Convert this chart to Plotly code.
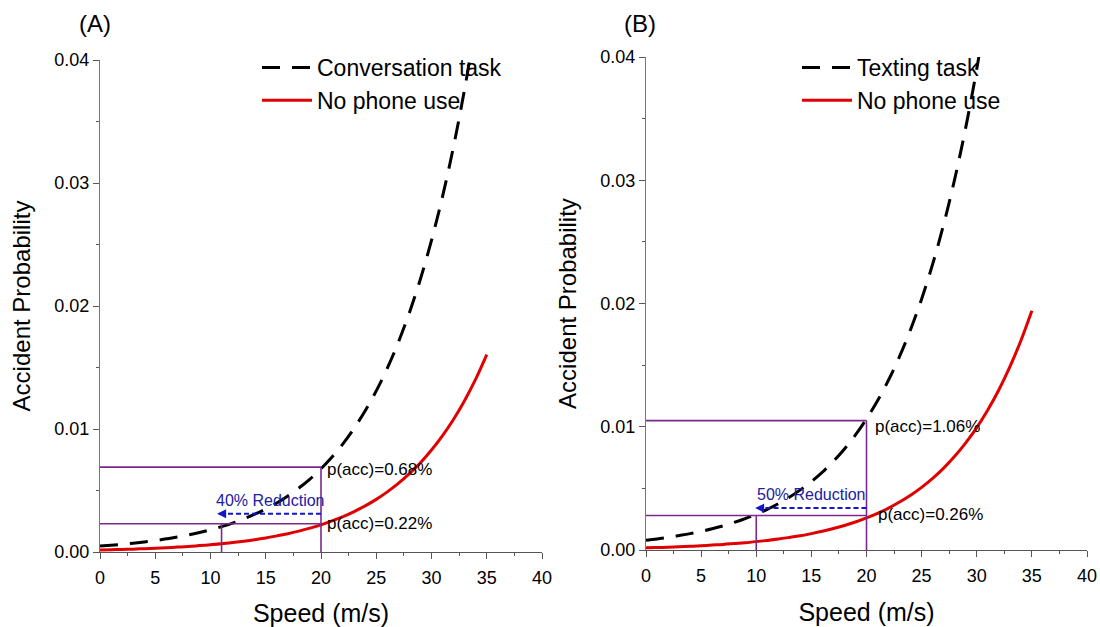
import plotly.graph_objects as go

# ---------------- data ----------------
speed = list(range(0, 36))

conversation_prob = [0.00048, 0.00055, 0.00063, 0.00072, 0.00082, 0.00093, 0.00107, 0.00122,
                     0.00139, 0.00158, 0.00181, 0.00206, 0.00235, 0.00269, 0.00307, 0.00350,
                     0.00399, 0.00456, 0.00520, 0.00593, 0.00677, 0.00772, 0.00881, 0.01006,
                     0.01148, 0.01310, 0.01494, 0.01705, 0.01946, 0.02220, 0.02534, 0.02891,
                     0.03299, 0.03765, 0.04296]

no_phone_a = [0.00016, 0.00018, 0.00021, 0.00023, 0.00027, 0.00031, 0.00035, 0.00040,
              0.00045, 0.00052, 0.00059, 0.00067, 0.00077, 0.00088, 0.00100, 0.00114,
              0.00131, 0.00149, 0.00170, 0.00194, 0.00221, 0.00253, 0.00288, 0.00329,
              0.00375, 0.00428, 0.00489, 0.00558, 0.00637, 0.00726, 0.00829, 0.00946,
              0.01079, 0.01232, 0.01405, 0.01604]

texting_prob = [0.00079, 0.00090, 0.00102, 0.00117, 0.00133, 0.00151, 0.00172, 0.00196,
                0.00224, 0.00255, 0.00290, 0.00330, 0.00376, 0.00428, 0.00488, 0.00555,
                0.00632, 0.00720, 0.00820, 0.00934, 0.01064, 0.01211, 0.01379, 0.01571,
                0.01789, 0.02037, 0.02320, 0.02642, 0.03009, 0.03427, 0.03903, 0.04445]

no_phone_b = [0.00018, 0.00020, 0.00023, 0.00027, 0.00030, 0.00035, 0.00040, 0.00045,
              0.00052, 0.00059, 0.00068, 0.00078, 0.00089, 0.00102, 0.00116, 0.00133,
              0.00152, 0.00174, 0.00199, 0.00227, 0.00260, 0.00297, 0.00340, 0.00389,
              0.00444, 0.00508, 0.00581, 0.00664, 0.00760, 0.00869, 0.00993, 0.01136,
              0.01298, 0.01485, 0.01698, 0.01941]

# guide lines: (speed at phone use, prob at phone use, reduced speed, prob at reduced speed)
guide_a = dict(v_ref=20, p_high=0.0069, v_low=11, p_low=0.0023, arrow_y=0.0031, arrow_end=10.6)
guide_b = dict(v_ref=20, p_high=0.0105, v_low=10, p_low=0.0028, arrow_y=0.0034, arrow_end=9.9)
labels_a = ["p(acc)=0.68%", "p(acc)=0.22%", "40% Reduction"]
labels_b = ["p(acc)=1.06%", "p(acc)=0.26%", "50% Reduction"]

x_ticks = [0, 5, 10, 15, 20, 25, 30, 35, 40]
y_ticks = [0.00, 0.01, 0.02, 0.03, 0.04]

FONT = "Liberation Sans, Arial, sans-serif"
PURPLE = "#7a2a8c"
BLUE = "#1515c8"

W, H = 1100, 627

def px(p):
    return p / W

def py(p):
    return 1 - p / H

fig = go.Figure()

def add_panel(xa, ya, task_name, task_y, nophone_y, legend):
    fig.add_trace(go.Scatter(x=speed[:len(task_y)], y=task_y, mode="lines", name=task_name,
                             line=dict(color="black", width=3, dash="18px,12px", shape="spline"),
                             xaxis=xa, yaxis=ya, legend=legend))
    fig.add_trace(go.Scatter(x=speed[:len(nophone_y)], y=nophone_y, mode="lines", name="No phone use",
                             line=dict(color="#e00000", width=3, shape="spline"),
                             xaxis=xa, yaxis=ya, legend=legend))

add_panel("x", "y", "Conversation task", conversation_prob, no_phone_a, "legend")
add_panel("x2", "y2", "Texting task", texting_prob, no_phone_b, "legend2")

shapes = []
annotations = []

def add_guides(xr, yr, g, labels, lab_off):
    pl = dict(color=PURPLE, width=1.6)
    shapes.append(dict(type="line", xref=xr, yref=yr, x0=0, x1=g["v_ref"], y0=g["p_high"], y1=g["p_high"], line=pl))
    shapes.append(dict(type="line", xref=xr, yref=yr, x0=g["v_ref"], x1=g["v_ref"], y0=0, y1=g["p_high"], line=pl))
    shapes.append(dict(type="line", xref=xr, yref=yr, x0=0, x1=g["v_ref"], y0=g["p_low"], y1=g["p_low"], line=pl))
    shapes.append(dict(type="line", xref=xr, yref=yr, x0=g["v_low"], x1=g["v_low"], y0=0, y1=g["p_low"], line=pl))
    shapes.append(dict(type="line", xref=xr, yref=yr, x0=g["v_ref"], x1=g["arrow_end"] + 0.5,
                       y0=g["arrow_y"], y1=g["arrow_y"], line=dict(color=BLUE, width=2, dash="5px,3px")))
    annotations.append(dict(xref=xr, yref=yr, axref=xr, ayref=yr, x=g["arrow_end"], y=g["arrow_y"],
                            ax=g["arrow_end"] + 0.8, ay=g["arrow_y"], text="", showarrow=True,
                            arrowhead=2, arrowsize=0.9, arrowwidth=2, arrowcolor=BLUE))
    annotations.append(dict(xref=xr, yref=yr, x=g["v_ref"] + lab_off[0], y=g["p_high"] + lab_off[1], text=labels[0],
                            showarrow=False, xanchor="left", yanchor="middle",
                            font=dict(family=FONT, size=17, color="black")))
    annotations.append(dict(xref=xr, yref=yr, x=g["v_ref"] + lab_off[2], y=g["p_low"] + lab_off[3], text=labels[1],
                            showarrow=False, xanchor="left", yanchor="middle",
                            font=dict(family=FONT, size=17, color="black")))
    annotations.append(dict(xref=xr, yref=yr, x=(g["v_ref"] + g["arrow_end"]) / 2 + 0.1, y=g["arrow_y"] + 0.0011,
                            text=labels[2], showarrow=False, xanchor="center", yanchor="middle",
                            font=dict(family=FONT, size=16, color="#2020a0")))

add_guides("x", "y", guide_a, labels_a, (0.4, -0.0002, 0.4, 0.0))
add_guides("x2", "y2", guide_b, labels_b, (0.6, -0.0005, 0.9, 0.0001))

annotations.append(dict(xref="paper", yref="paper", x=px(95), y=py(24), text="(A)", showarrow=False,
                        xanchor="center", yanchor="middle", font=dict(family=FONT, size=24, color="black")))
annotations.append(dict(xref="paper", yref="paper", x=px(640), y=py(24), text="(B)", showarrow=False,
                        xanchor="center", yanchor="middle", font=dict(family=FONT, size=24, color="black")))

def xaxis(domain, anchor):
    return dict(domain=domain, anchor=anchor, range=[0, 40], tickvals=x_ticks, automargin=False,
                ticktext=[str(v) for v in x_ticks], showgrid=False, zeroline=False,
                ticklabeloverflow="allow", ticklabelstandoff=3,
                showline=True, linecolor="#555555", linewidth=1.2, ticks="outside", ticklen=6,
                tickcolor="#555555", tickfont=dict(family=FONT, size=18, color="black"),
                minor=dict(ticks="outside", ticklen=3, dtick=2.5, tickcolor="#555555"),
                title=dict(text="Speed (m/s)", font=dict(family=FONT, size=25, color="black"), standoff=18))

def yaxis(domain, anchor):
    return dict(domain=domain, anchor=anchor, range=[0, 0.04], tickvals=y_ticks, automargin=False,
                ticktext=["%.2f" % v for v in y_ticks], showgrid=False, zeroline=False,
                ticklabeloverflow="allow",
                showline=True, linecolor="#777777", linewidth=1.2, ticks="outside", ticklen=6,
                tickcolor="#555555", tickfont=dict(family=FONT, size=18, color="black"),
                minor=dict(ticks="outside", ticklen=3, dtick=0.005, tickcolor="#555555"),
                title=dict(text="Accident Probability", font=dict(family=FONT, size=24, color="black"), standoff=16))

legend_common = dict(font=dict(family=FONT, size=23, color="black"), bgcolor="rgba(0,0,0,0)",
                     xanchor="left", yanchor="top", itemwidth=50, tracegroupgap=0, traceorder="normal")

fig.update_layout(
    width=W, height=H,
    margin=dict(l=0, r=0, t=0, b=0),
    paper_bgcolor="white", plot_bgcolor="white",
    xaxis=xaxis([px(100), px(542)], "y"),
    yaxis=yaxis([py(552), py(60)], "x"),
    xaxis2=xaxis([px(646), px(1087)], "y2"),
    yaxis2=yaxis([py(550), py(57)], "x2"),
    legend=dict(x=px(257), y=py(46), **legend_common),
    legend2=dict(x=px(797), y=py(46), **legend_common),
    shapes=shapes,
    annotations=annotations,
    showlegend=True,
)

# remove the default 8px page margin so the figure fills the 1100x627 window exactly
fig.write_html("out.html", config={"displayModeBar": False},
               post_script="document.body.style.margin='0';")
